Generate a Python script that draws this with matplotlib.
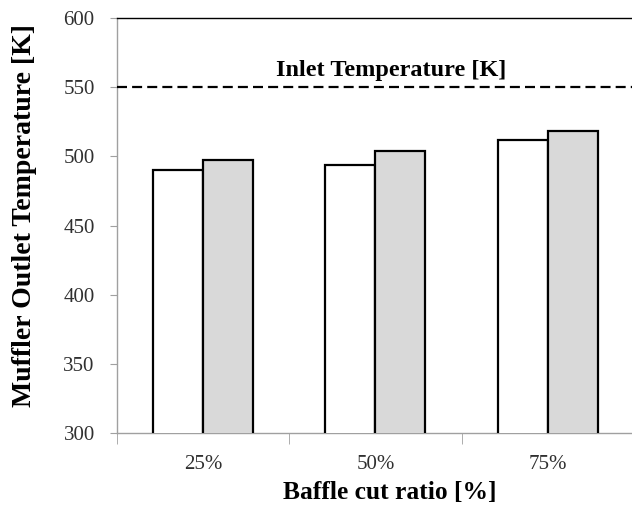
import numpy as np
import matplotlib
matplotlib.use('Agg')
import matplotlib.pyplot as plt

# Data
categories = ['25%', '50%', '75%']
series_a = [490, 494, 512]   # white bars
series_b = [497, 504, 518]   # gray bars
inlet_temp = 550
y_ticks = [300, 350, 400, 450, 500, 550, 600]

plt.rcParams['font.family'] = ['Liberation Serif', 'DejaVu Serif']

fig = plt.figure(figsize=(6.32, 5.08), dpi=100)
ax = fig.add_axes([0.185, 0.1476, 0.818, 0.817])

x = np.arange(len(categories))
w = 0.29
ax.bar(x - w / 2, series_a, width=w, bottom=0, color='white', edgecolor='black', linewidth=1.6, zorder=3)
ax.bar(x + w / 2, series_b, width=w, bottom=0, color='#d9d9d9', edgecolor='black', linewidth=1.6, zorder=3)

ax.axhline(inlet_temp, color='black', linestyle=(0, (4.5, 2.3)), linewidth=1.6, zorder=4)
ax.text(1.09, 562, 'Inlet Temperature [K]', ha='center', va='center', fontsize=17.5, fontweight='bold', zorder=5)

ax.set_ylim(300, 600)
ax.set_xlim(-0.5, 2.5)
ax.set_yticks(y_ticks)
ax.set_xticks(x)
ax.set_xticklabels(categories)
ax.set_xticks([-0.5, 0.5, 1.5, 2.5], minor=True)

ax.tick_params(axis='y', length=5, color='#a0a0a0', labelsize=15, labelcolor='#303030', pad=11)
ax.tick_params(axis='x', which='major', length=0, labelsize=15, labelcolor='#303030', pad=16)
ax.tick_params(axis='x', which='minor', length=8, color='#a0a0a0')

for side in ['left', 'bottom']:
    ax.spines[side].set_color('#a0a0a0')
    ax.spines[side].set_linewidth(1.0)
ax.spines['top'].set_color('black')
ax.spines['top'].set_linewidth(1.0)
ax.spines['right'].set_visible(False)

fig.text(25 / 632, 1 - 216 / 508, 'Muffler Outlet Temperature [K]', rotation=90,
         ha='center', va='center', fontsize=20, fontweight='bold')
fig.text(390 / 632, 1 - 493 / 508, 'Baffle cut ratio [%]', ha='center', va='center', fontsize=18.4, fontweight='bold')

fig.savefig('out.png', dpi=100)
